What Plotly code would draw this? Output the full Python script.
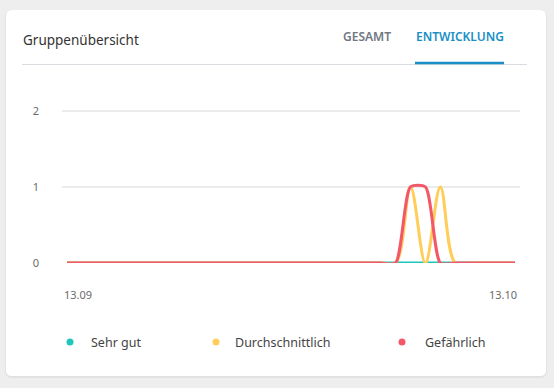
import plotly.graph_objects as go
import pandas as pd

dates = pd.date_range("2021-09-13", "2021-10-13", freq="D")
sehr_gut = [0] * 31
durchschnittlich = [0] * 23 + [1, 0, 1] + [0] * 5
gefaehrlich = [0] * 23 + [1, 1] + [0] * 6
series_names = ["Sehr gut", "Durchschnittlich", "Gefährlich"]
series_colors = ["#1ec6bb", "#ffcd5a", "#f25867"]
series_smoothing = [1.0, 1.0, 0.65]
y_ticks = [0, 1, 2]
x_tick_labels = ["13.09", "13.10"]

FONT = "Noto Sans"
fig = go.Figure()
for name, vals, col, sm in zip(series_names, [sehr_gut, durchschnittlich, gefaehrlich],
                               series_colors, series_smoothing):
    fig.add_trace(go.Scatter(x=dates, y=vals, name=name, mode="lines",
                             line=dict(color=col, width=3, shape="spline", smoothing=sm),
                             showlegend=False, hoverinfo="skip"))

W, H = 554, 388
ml, mr, mt, mb = 62, 34, 88, 125
pw, ph = W - ml - mr, H - mt - mb
def px(x):
    return (x - ml) / pw
def py(y):
    return (H - mb - y) / ph

def rounded_rect(x0, y0, x1, y1, r):
    return (f"M {px(x0+r)} {py(y0)} L {px(x1-r)} {py(y0)} Q {px(x1)} {py(y0)} {px(x1)} {py(y0+r)} "
            f"L {px(x1)} {py(y1-r)} Q {px(x1)} {py(y1)} {px(x1-r)} {py(y1)} "
            f"L {px(x0+r)} {py(y1)} Q {px(x0)} {py(y1)} {px(x0)} {py(y1-r)} "
            f"L {px(x0)} {py(y0+r)} Q {px(x0)} {py(y0)} {px(x0+r)} {py(y0)} Z")

shapes = [
    dict(type="path", xref="paper", yref="paper", layer="below",
         path=rounded_rect(5, 10, 547, 378, 7), fillcolor="#e2e2e2", line=dict(width=0)),
    dict(type="path", xref="paper", yref="paper", layer="below",
         path=rounded_rect(6, 10, 546, 376, 6), fillcolor="#ffffff", line=dict(width=0)),
    dict(type="line", xref="paper", yref="paper", x0=px(22), x1=px(527), y0=py(64.5), y1=py(64.5),
         line=dict(color="#d9dde2", width=1)),
    dict(type="line", xref="paper", yref="paper", x0=px(415), x1=px(504), y0=py(63), y1=py(63),
         line=dict(color="#1a8fc6", width=2.5)),
]

annotations = [
    dict(text="Gruppenübersicht", xref="paper", yref="paper", x=px(21), y=py(40), xanchor="left",
         yanchor="middle", showarrow=False, font=dict(family=FONT, size=13.5, color="#333333")),
    dict(text="GESAMT", xref="paper", yref="paper", x=px(341), y=py(36), xanchor="left",
         yanchor="middle", showarrow=False, font=dict(family=FONT, size=12, color="#6f7781", weight=600)),
    dict(text="ENTWICKLUNG", xref="paper", yref="paper", x=px(414), y=py(36), xanchor="left",
         yanchor="middle", showarrow=False, font=dict(family=FONT, size=12, color="#1a8fc6", weight=600)),
    dict(text=x_tick_labels[0], xref="x", yref="paper", x=dates[0], y=py(294), xanchor="left",
         yanchor="middle", xshift=-5, showarrow=False, font=dict(family=FONT, size=11, color="#6b6b6b")),
    dict(text=x_tick_labels[1], xref="x", yref="paper", x=dates[-1], y=py(294), xanchor="right",
         yanchor="middle", xshift=4, showarrow=False, font=dict(family=FONT, size=11, color="#6b6b6b")),
]

legend_dot_x = [70, 216, 402]
legend_text_x = [89, 233, 423]
for name, col, dx, tx in zip(series_names, series_colors, legend_dot_x, legend_text_x):
    shapes.append(dict(type="circle", xref="paper", yref="paper",
                       x0=px(dx - 3.5), x1=px(dx + 3.5), y0=py(342 + 3.5), y1=py(342 - 3.5),
                       fillcolor=col, line=dict(width=0)))
    annotations.append(dict(text=name, xref="paper", yref="paper", x=px(tx), y=py(342),
                            xanchor="left", yanchor="middle", showarrow=False,
                            font=dict(family=FONT, size=12.5, color="#444444")))

pad = pd.Timedelta(hours=8)
fig.update_layout(
    width=W, height=H,
    margin=dict(l=ml, r=mr, t=mt, b=mb),
    paper_bgcolor="#eeeeee", plot_bgcolor="rgba(0,0,0,0)",
    shapes=shapes, annotations=annotations,
    xaxis=dict(range=[dates[0] - pad, dates[-1] + pad], showgrid=False, zeroline=False,
               showticklabels=False, showline=False, fixedrange=True),
    yaxis=dict(range=[0, 2.3], tickvals=y_ticks, showgrid=True, gridcolor="#ebebeb", gridwidth=2,
               zeroline=False, ticks="", ticklabelstandoff=22,
               tickfont=dict(family=FONT, size=11, color="#6b6b6b"), fixedrange=True),
    showlegend=False,
)
fig.write_html("out.html")
